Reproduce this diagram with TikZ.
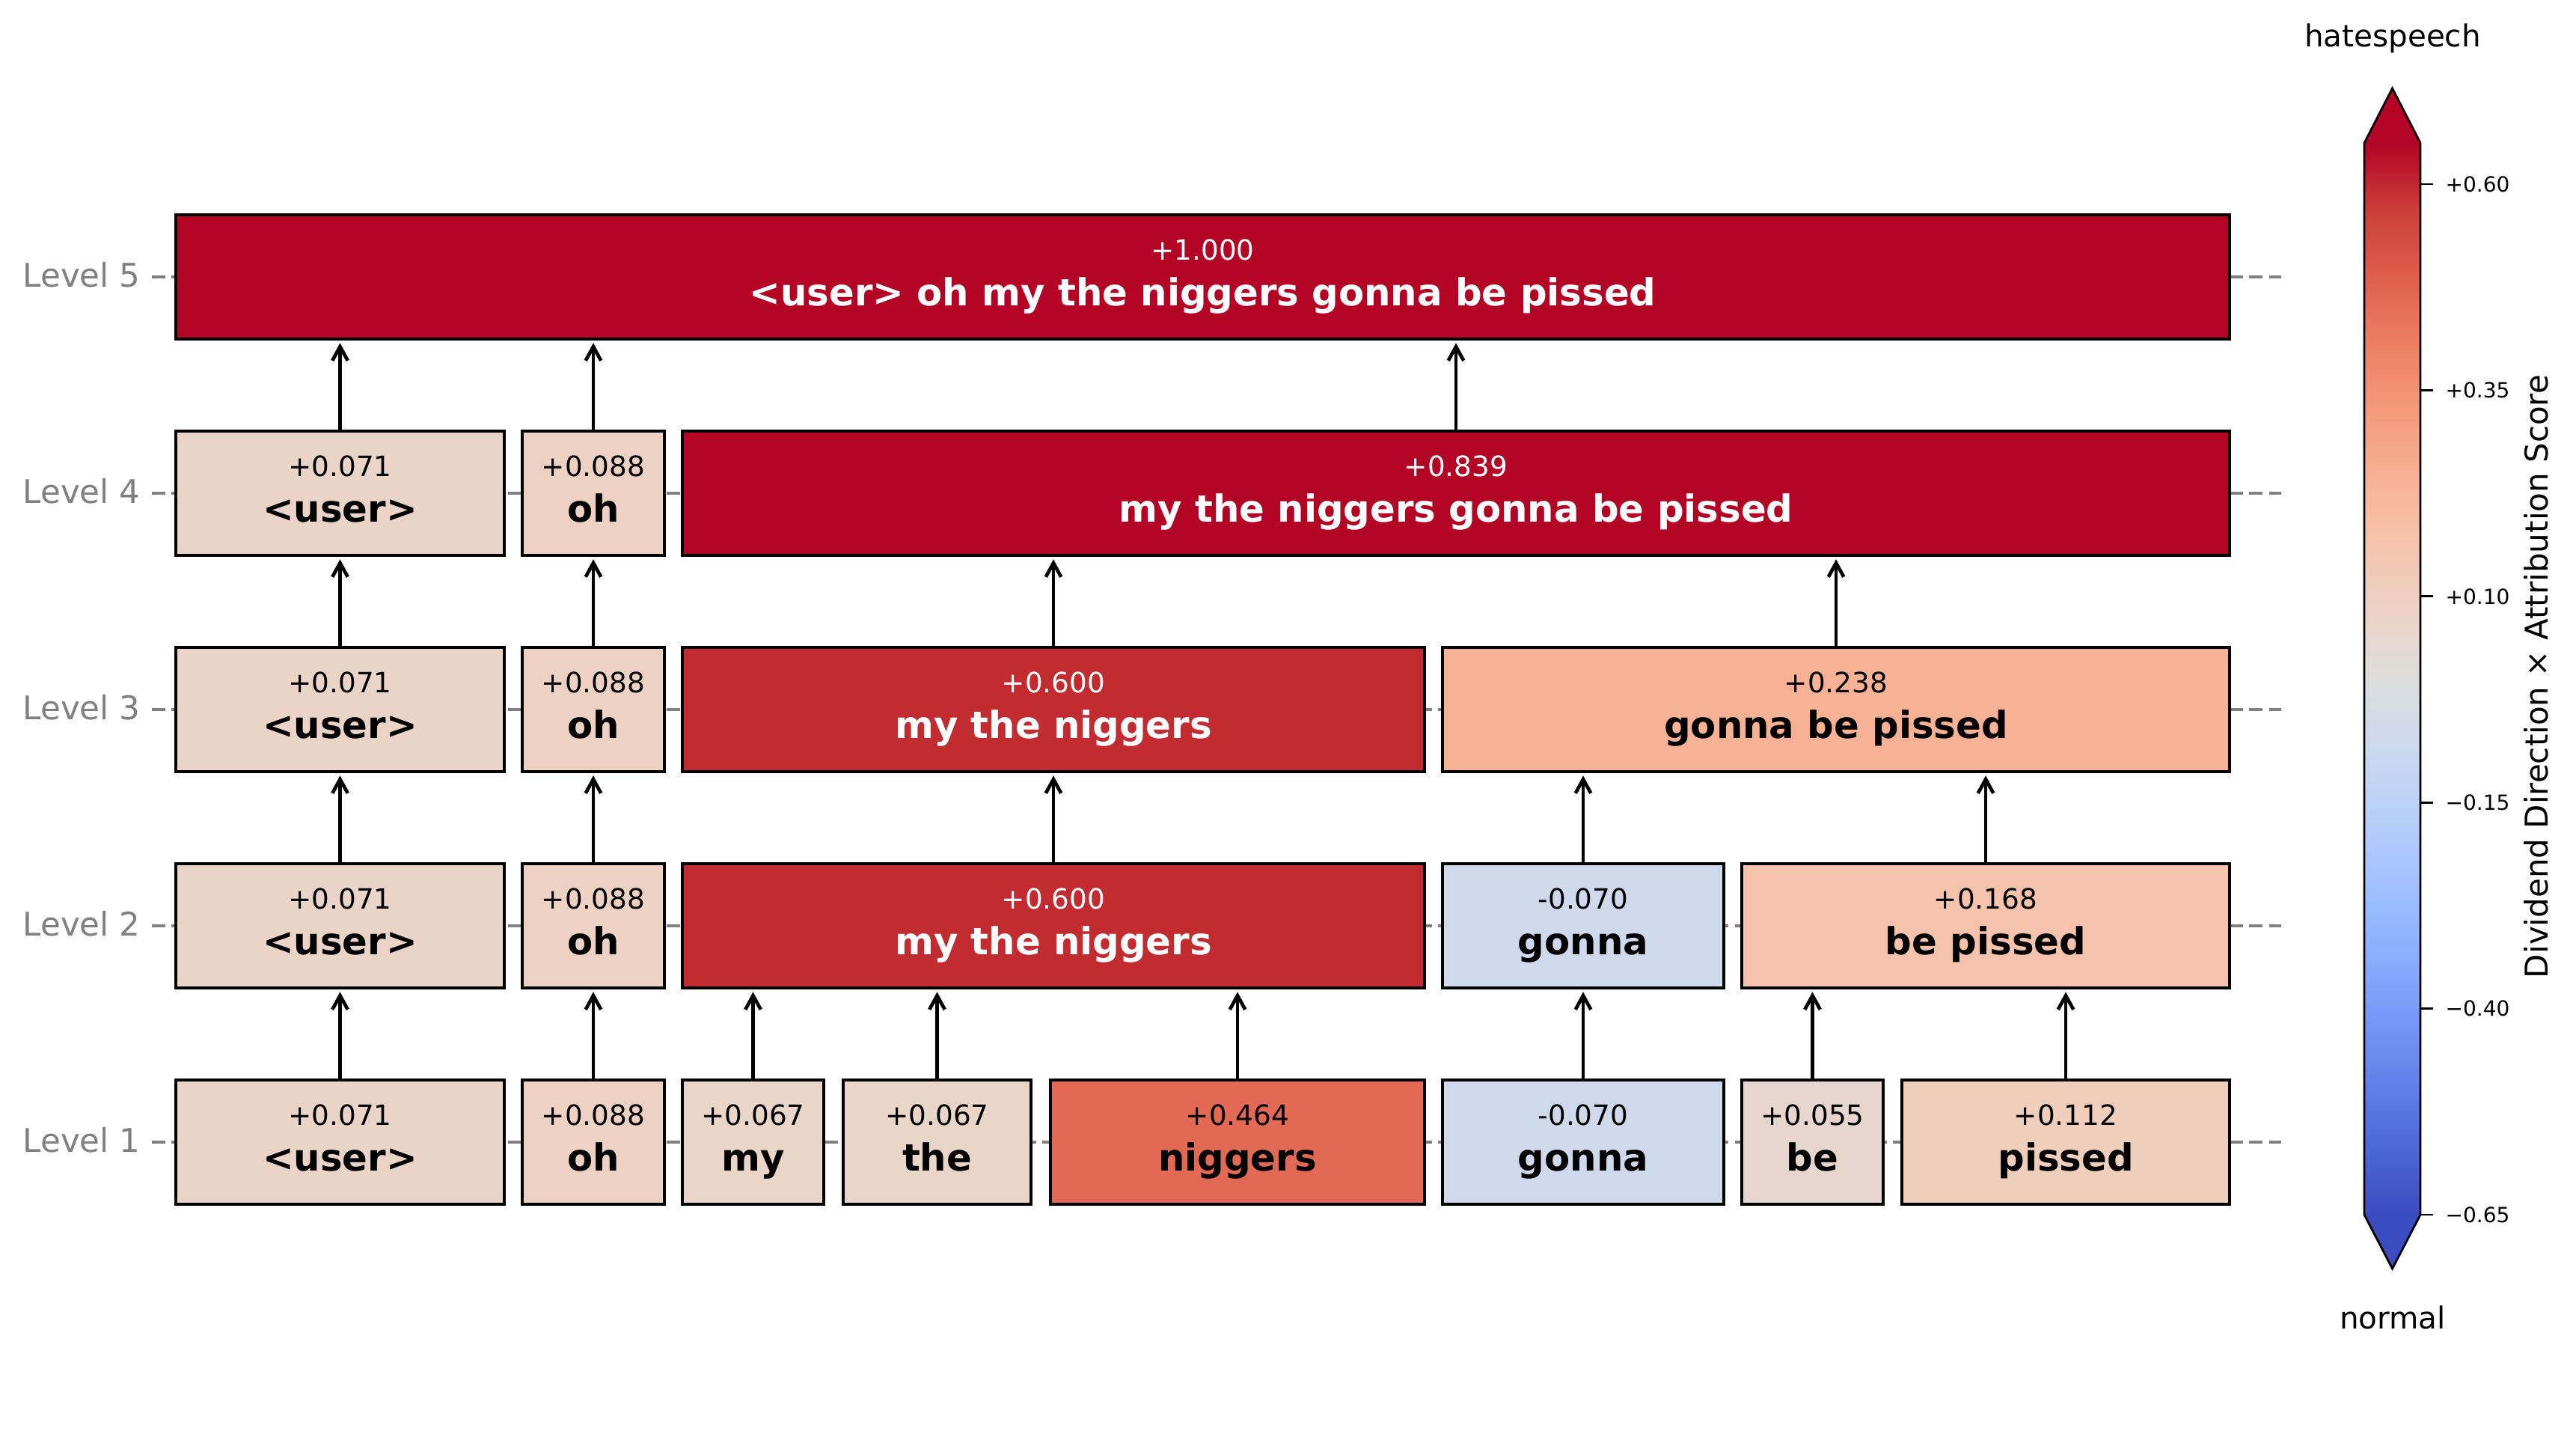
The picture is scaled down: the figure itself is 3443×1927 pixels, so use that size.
\documentclass[tikz,border=0pt]{standalone}
\usepackage{fontspec}
\setmainfont{DejaVu Sans}
\usetikzlibrary{arrows.meta}
% box colours (coolwarm, range -0.65..+0.65)
\definecolor{cmax}{RGB}{180,4,38}
\definecolor{cmin}{RGB}{59,76,192}
\definecolor{cA}{RGB}{194,43,48}
\definecolor{cB}{RGB}{226,105,83}
\definecolor{cC}{RGB}{247,178,150}
\definecolor{cD}{RGB}{245,195,171}
\definecolor{cE}{RGB}{240,206,188}
\definecolor{cF}{RGB}{237,210,195}
\definecolor{cG}{RGB}{234,212,200}
\definecolor{cH}{RGB}{234,213,201}
\definecolor{cI}{RGB}{231,214,205}
\definecolor{cJ}{RGB}{206,218,236}
\definecolor{axgray}{RGB}{128,128,128}
% colour bar stops
\definecolor{cw0}{RGB}{59,76,192}
\definecolor{cw1}{RGB}{77,104,215}
\definecolor{cw2}{RGB}{98,130,234}
\definecolor{cw3}{RGB}{119,154,247}
\definecolor{cw4}{RGB}{141,176,254}
\definecolor{cw5}{RGB}{163,194,255}
\definecolor{cw6}{RGB}{184,208,249}
\definecolor{cw7}{RGB}{204,217,238}
\definecolor{cw8}{RGB}{221,221,221}
\definecolor{cw9}{RGB}{236,211,197}
\definecolor{cw10}{RGB}{245,196,173}
\definecolor{cw11}{RGB}{247,177,148}
\definecolor{cw12}{RGB}{244,154,123}
\definecolor{cw13}{RGB}{236,127,99}
\definecolor{cw14}{RGB}{222,96,77}
\definecolor{cw15}{RGB}{203,62,56}
\definecolor{cw16}{RGB}{180,4,38}
\pgfdeclareverticalshading{coolwarmbar}{100bp}{%
color(0bp)=(cw0); color(25bp)=(cw0); color(28.125bp)=(cw1); color(31.25bp)=(cw2);
color(34.375bp)=(cw3); color(37.5bp)=(cw4); color(40.625bp)=(cw5); color(43.75bp)=(cw6);
color(46.875bp)=(cw7); color(50bp)=(cw8); color(53.125bp)=(cw9); color(56.25bp)=(cw10);
color(59.375bp)=(cw11); color(62.5bp)=(cw12); color(65.625bp)=(cw13); color(68.75bp)=(cw14);
color(71.875bp)=(cw15); color(75bp)=(cw16); color(100bp)=(cw16)}
\tikzset{
  tbox/.style={draw=black, line width=1pt, rectangle, inner sep=0pt, minimum height=53.35pt},
  valtxt/.style={anchor=base, inner sep=0pt, font=\fontsize{12}{14}\selectfont},
  wordtxt/.style={anchor=base, inner sep=0pt, font=\fontsize{16}{19}\selectfont\bfseries},
  lvl/.style={anchor=base east, inner sep=0pt, text=axgray, font=\fontsize{14}{17}\selectfont},
  guide/.style={draw=axgray, line width=1.5pt, dash pattern=on 5.8pt off 2.7pt},
  arr/.style={draw=black, line width=1.5pt, -{Straight Barb[length=6pt,width=6.6pt]}, shorten >=1.2pt},
  cbtick/.style={draw=black, line width=0.9pt},
  cblab/.style={anchor=west, inner sep=0pt, font=\fontsize{9}{11}\selectfont},
  sidetxt/.style={anchor=base, inner sep=0pt, font=\fontsize{13}{16}\selectfont},
}
% name, x1, x2, cy, fill, text colour, value, word
\newcommand\tokbox[8]{%
  \pgfmathsetmacro\tbw{(#3-#2)*0.3214}%
  \pgfmathsetmacro\tbx{(#2+#3)/2}%
  \node[tbox, fill=#5, minimum width=\tbw pt] (#1) at (\tbx,#4) {};
  \node[valtxt, text=#6] (#1-v) at (\tbx,{#4-23}) {#7};
  \node[wordtxt, text=#6] (#1-w) at (\tbx,{#4+38}) {#8};
}
\begin{document}
\begin{tikzpicture}[x=0.3214pt, y=-0.3214pt]
\fill[white] (0,0) rectangle (3443,1927);
\useasboundingbox (0,0) rectangle (3443,1927);

% level guides and labels
\foreach \n/\c in {1/1526, 2/1237, 3/948, 4/659, 5/370}{
  \coordinate (gl\n) at (203,\c);
  \coordinate (gr\n) at (3049,\c);
  \draw[guide] (gl\n) -- (gr\n);
  \node[lvl] (lv\n) at (188,{\c+13}) {Level \n};
}

% Level 1
\tokbox{a1}{235}{674}{1526}{cG}{black}{+0.071}{<user>}
\tokbox{a2}{698}{888}{1526}{cF}{black}{+0.088}{oh}
\tokbox{a3}{912}{1101}{1526}{cH}{black}{+0.067}{my}
\tokbox{a4}{1127}{1378}{1526}{cH}{black}{+0.067}{the}
\tokbox{a5}{1404}{1904}{1526}{cB}{black}{+0.464}{niggers}
\tokbox{a6}{1928}{2304}{1526}{cJ}{black}{-0.070}{gonna}
\tokbox{a7}{2328}{2517}{1526}{cI}{black}{+0.055}{be}
\tokbox{a8}{2542}{2980}{1526}{cE}{black}{+0.112}{pissed}
% Level 2
\tokbox{b1}{235}{674}{1237}{cG}{black}{+0.071}{<user>}
\tokbox{b2}{698}{888}{1237}{cF}{black}{+0.088}{oh}
\tokbox{b3}{912}{1904}{1237}{cA}{white}{+0.600}{my the niggers}
\tokbox{b4}{1928}{2304}{1237}{cJ}{black}{-0.070}{gonna}
\tokbox{b5}{2328}{2980}{1237}{cD}{black}{+0.168}{be pissed}
% Level 3
\tokbox{c1}{235}{674}{948}{cG}{black}{+0.071}{<user>}
\tokbox{c2}{698}{888}{948}{cF}{black}{+0.088}{oh}
\tokbox{c3}{912}{1904}{948}{cA}{white}{+0.600}{my the niggers}
\tokbox{c4}{1928}{2980}{948}{cC}{black}{+0.238}{gonna be pissed}
% Level 4
\tokbox{d1}{235}{674}{659}{cG}{black}{+0.071}{<user>}
\tokbox{d2}{698}{888}{659}{cF}{black}{+0.088}{oh}
\tokbox{d3}{912}{2980}{659}{cmax}{white}{+0.839}{my the niggers gonna be pissed}
% Level 5
\tokbox{e1}{235}{2980}{370}{cmax}{white}{+1.000}{<user> oh my the niggers gonna be pissed}

% arrows
\foreach \ch/\pa in {a1/b1, a2/b2, a3/b3, a4/b3, a5/b3, a6/b4, a7/b5, a8/b5,
                     b1/c1, b2/c2, b3/c3, b4/c4, b5/c4,
                     c1/d1, c2/d2, c3/d3, c4/d3,
                     d1/e1, d2/e1, d3/e1}{
  \draw[arr] (\ch.north) -- (\ch.north |- \pa.south);
}

% colour bar
\shade[shading=coolwarmbar] (3160,191) rectangle (3235,1623);
\fill[cmax] (3160,191) -- (3197.5,118) -- (3235,191) -- cycle;
\fill[cmin] (3160,1623) -- (3197.5,1695) -- (3235,1623) -- cycle;
\draw[line width=0.9pt, line join=miter] (3160,191) -- (3197.5,118) -- (3235,191) -- (3235,1623) -- (3197.5,1695) -- (3160,1623) -- cycle;
\foreach \ty/\lab [count=\i] in {246/{+0.60}, 521.4/{+0.35}, 796.8/{+0.10}, 1072.2/{−0.15}, 1347.6/{−0.40}, 1623/{−0.65}}{
  \coordinate (tk\i) at (3235,\ty);
  \coordinate (te\i) at (3252,\ty);
  \draw[cbtick] (tk\i) -- (te\i);
  \node[cblab] (tl\i) at (3268,\ty) {\lab};
}
\node[sidetxt] (hs) at (3198,62) {hatespeech};
\node[sidetxt] (nm) at (3198,1775) {normal};
\node[anchor=base, rotate=90, inner sep=0pt, font=\fontsize{13.5}{16}\selectfont] (cbl) at (3405,904) {Dividend Direction × Attribution Score};
\end{tikzpicture}
\end{document}
